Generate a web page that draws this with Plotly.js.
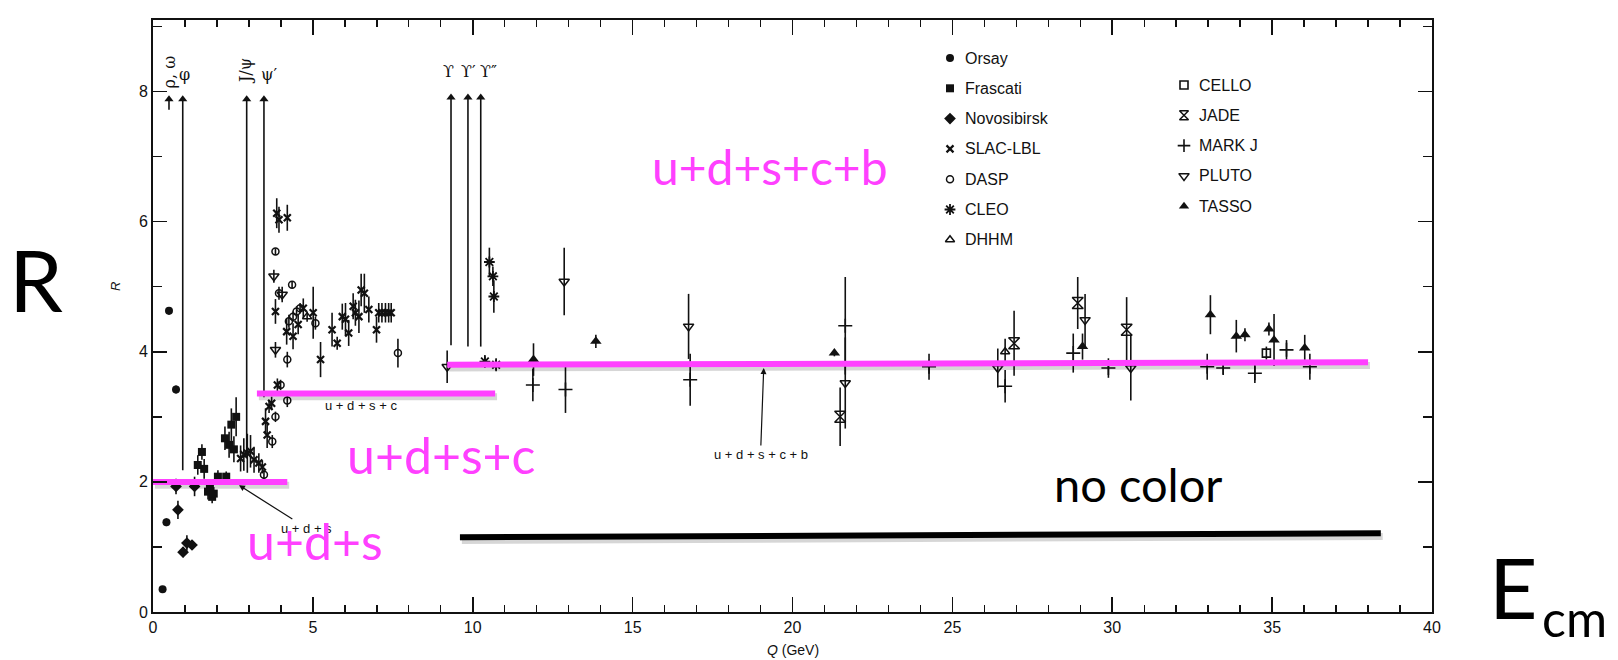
<!DOCTYPE html>
<html><head><meta charset="utf-8">
<script src="https://cdn.plot.ly/plotly-3.0.1.min.js"></script>
<style>html,body{margin:0;padding:0;background:#fff}#chart{width:1618px;height:660px}</style>
</head><body><div id="chart"></div>
<script>
// ---------------- data ----------------
const orsayQ = [0.30, 0.42, 0.50, 0.72];
const orsayR = [0.35, 1.38, 4.63, 3.42];
const orsayE = [0.05, 0.06, 0.06, 0.06];

const frascatiQ = [1.40, 1.53, 1.60, 1.72, 1.78, 1.85, 1.90, 2.03, 2.25, 2.29, 2.38, 2.45, 2.53, 2.60];
const frascatiR = [2.26, 2.46, 2.20, 1.85, 1.92, 1.77, 1.82, 2.08, 2.67, 2.08, 2.57, 2.88, 2.50, 3.00];
const frascatiE = [0.15, 0.12, 0.15, 0.12, 0.10, 0.10, 0.10, 0.10, 0.18, 0.08, 0.20, 0.25, 0.20, 0.30];

const novosibirskQ = [0.72, 0.78, 0.94, 1.06, 1.22, 1.30];
const novosibirskR = [1.93, 1.57, 0.92, 1.06, 1.03, 1.93];
const novosibirskE = [0.12, 0.14, 0.08, 0.12, 0.07, 0.15];

const slacQ = [2.74, 2.84, 2.95, 3.05, 3.16, 3.31, 3.42, 3.52, 3.57, 3.63, 3.71, 3.87, 3.89, 3.94, 4.20, 3.83, 4.18, 4.38, 4.54, 4.70, 5.01, 5.24, 5.60, 5.76, 5.92, 6.02, 6.12, 6.26, 6.33, 6.44, 6.51, 6.61, 6.75, 6.99, 7.06, 7.16, 7.27, 7.37, 7.45];
const slacR = [2.36, 2.42, 2.44, 2.47, 2.34, 2.29, 2.23, 2.93, 2.72, 3.16, 3.21, 6.13, 3.49, 6.03, 6.06, 4.62, 4.31, 4.24, 4.42, 4.67, 4.60, 3.88, 4.34, 4.13, 4.54, 4.50, 4.29, 4.70, 4.60, 4.54, 4.95, 4.90, 4.65, 4.34, 4.60, 4.60, 4.60, 4.60, 4.60];
const slacE = [0.20, 0.25, 0.30, 0.25, 0.20, 0.15, 0.10, 0.20, 0.20, 0.10, 0.10, 0.23, 0.10, 0.20, 0.20, 0.19, 0.20, 0.20, 0.15, 0.15, 0.40, 0.27, 0.26, 0.10, 0.20, 0.25, 0.20, 0.20, 0.20, 0.25, 0.25, 0.30, 0.20, 0.20, 0.15, 0.15, 0.15, 0.15, 0.15];

const daspQ = [3.47, 3.73, 3.83, 3.99, 4.20, 4.20, 3.83, 4.35, 3.94, 4.25, 4.38, 4.49, 4.60, 5.08, 7.66];
const daspR = [2.11, 2.62, 3.00, 3.49, 3.25, 3.88, 5.54, 5.03, 4.90, 4.47, 4.54, 4.62, 4.67, 4.44, 3.98];
const daspE = [0.08, 0.10, 0.08, 0.08, 0.10, 0.12, 0.05, 0.05, 0.10, 0.10, 0.08, 0.08, 0.08, 0.10, 0.22];

const cleoQ = [10.38, 10.52, 10.63, 10.66, 10.73];
const cleoR = [3.85, 5.38, 5.16, 4.85, 3.80];
const cleoE = [0.10, 0.22, 0.15, 0.25, 0.10];

const dhhmQ = [4.82, 26.65];
const dhhmR = [4.54, 4.00];
const dhhmE = [0.08, 0.20];

const celloQ = [34.82];
const celloR = [3.98];
const celloE = [0.10];

const jadeQ = [21.49, 26.93, 28.92, 30.45];
const jadeR = [3.00, 4.13, 4.75, 4.34];
const jadeE = [0.45, 0.50, 0.40, 0.50];

const markjQ = [11.88, 12.90, 16.80, 21.65, 24.27, 26.65, 28.78, 29.88, 32.97, 33.47, 34.46, 35.45, 36.18];
const markjR = [3.49, 3.42, 3.57, 4.40, 3.77, 3.47, 3.98, 3.75, 3.77, 3.75, 3.67, 4.03, 3.77];
const markjE = [0.25, 0.36, 0.40, 0.75, 0.20, 0.25, 0.30, 0.15, 0.20, 0.10, 0.15, 0.15, 0.20];

const plutoQ = [3.78, 4.04, 3.83, 9.20, 12.86, 16.75, 21.65, 26.42, 29.15, 30.58];
const plutoR = [5.16, 4.88, 4.03, 3.77, 5.08, 4.39, 3.52, 3.75, 4.49, 3.75];
const plutoE = [0.10, 0.12, 0.12, 0.25, 0.52, 0.50, 0.70, 0.30, 0.40, 0.50];

const tassoQ = [11.90, 13.85, 21.31, 29.07, 33.07, 33.88, 34.15, 34.90, 35.06, 36.02];
const tassoR = [3.88, 4.16, 3.98, 4.08, 4.57, 4.24, 4.26, 4.35, 4.18, 4.06];
const tassoE = [0.25, 0.10, 0.05, 0.20, 0.30, 0.25, 0.10, 0.10, 0.40, 0.20];

// resonances (arrows)
const resLabels = ['ρ, ω', 'φ', 'J/ψ', "ψ′", 'ϒ', "ϒ′", 'ϒ″'];
const resQ      = [0.50, 0.93, 2.93, 3.47, 9.32, 9.85, 10.25];
const resLow    = [7.72, 2.18, 2.40, 3.30, 4.10, 4.08, 4.08];
const resHigh   = [8.00, 8.00, 8.00, 8.00, 8.03, 8.03, 8.03];
const resLabelQ = [0.50, 1.00, 2.90, 3.63, 9.25, 9.88, 10.50];
const resLabelR = [8.31, 8.26, 8.31, 8.26, 8.31, 8.31, 8.31];
const resLabelRot = [-90, 0, -90, 0, 0, 0, 0];

// quark-parton predictions (magenta) and "no color"
const quarkLabels = ['u+d+s', 'u+d+s+c', 'u+d+s+c+b'];
const quarkQ0 = [0.00, 3.25, 9.20];
const quarkQ1 = [4.20, 10.70, 38.00];
const quarkR0 = [2.00, 3.36, 3.80];
const quarkR1 = [2.00, 3.36, 3.84];
const noColorQ = [9.60, 38.40];
const noColorR = [1.15, 1.21];

// legend entries
const legendCol1 = ['Orsay', 'Frascati', 'Novosibirsk', 'SLAC-LBL', 'DASP', 'CLEO', 'DHHM'];
const legendCol2 = ['CELLO', 'JADE', 'MARK J', 'PLUTO', 'TASSO'];

// ---------------- styles ----------------
const MAG = '#ff40ff';
const styles = {
  'Orsay':       {q: orsayQ, r: orsayR, e: orsayE, symbol: 'circle', size: 8, lw: 0},
  'Frascati':    {q: frascatiQ, r: frascatiR, e: frascatiE, symbol: 'square', size: 8, lw: 0},
  'Novosibirsk': {q: novosibirskQ, r: novosibirskR, e: novosibirskE, symbol: 'diamond', size: 9, lw: 0},
  'SLAC-LBL':    {q: slacQ, r: slacR, e: slacE, symbol: 'x-thin-open', size: 7, lw: 2.2},
  'DASP':        {q: daspQ, r: daspR, e: daspE, symbol: 'circle-open', size: 7, lw: 1.5},
  'CLEO':        {q: cleoQ, r: cleoR, e: cleoE, symbol: 'asterisk-open', size: 9, lw: 1.8},
  'DHHM':        {q: dhhmQ, r: dhhmR, e: dhhmE, symbol: 'triangle-up-open', size: 8, lw: 1.5},
  'CELLO':       {q: celloQ, r: celloR, e: celloE, symbol: 'square-open', size: 8, lw: 1.6},
  'JADE':        {q: jadeQ, r: jadeR, e: jadeE, symbol: 'hourglass-open', size: 11, lw: 1.5},
  'MARK J':      {q: markjQ, r: markjR, e: markjE, symbol: 'cross-thin-open', size: 10, lw: 1.6},
  'PLUTO':       {q: plutoQ, r: plutoR, e: plutoE, symbol: 'triangle-down-open', size: 9, lw: 1.5},
  'TASSO':       {q: tassoQ, r: tassoR, e: tassoE, symbol: 'triangle-up', size: 10, lw: 0}
};

// plot-area pixel geometry (for layout placement only)
const PX0 = 153, PX1 = 1432, PY0 = 20, PY1 = 612;
const pxX = px => (px - PX0) / (PX1 - PX0);
const pxY = py => (PY1 - py) / (PY1 - PY0);

const traces = [];

// resonance arrows
const rx = [], ry = [];
resQ.forEach((q, i) => { rx.push(q, q, null); ry.push(resLow[i], resHigh[i] - 0.1, null); });
traces.push({x: rx, y: ry, mode: 'lines', line: {color: '#111', width: 1.6}, hoverinfo: 'skip'});
traces.push({x: resQ, y: resHigh.map(v => v - 0.12), mode: 'markers',
  marker: {symbol: 'triangle-up', size: 8, color: '#111'}, hoverinfo: 'skip'});

// data
Object.keys(styles).forEach(name => {
  const s = styles[name];
  traces.push({
    name: name, x: s.q, y: s.r, mode: 'markers', type: 'scatter',
    error_y: {type: 'data', array: s.e, visible: true, color: '#111', thickness: 1.6, width: 0},
    marker: {symbol: s.symbol, size: s.size, color: '#111', line: {color: '#111', width: s.lw}},
    cliponaxis: false
  });
});

// shadows + magenta lines
quarkLabels.forEach((lab, i) => {
  traces.push({x: [quarkQ0[i] + 0.06, quarkQ1[i] + 0.06], y: [quarkR0[i] - 0.05, quarkR1[i] - 0.05],
    mode: 'lines', line: {color: 'rgba(0,0,0,0.16)', width: 7}, hoverinfo: 'skip'});
});
traces.push({x: [noColorQ[0] + 0.06, noColorQ[1] + 0.06], y: [noColorR[0] - 0.05, noColorR[1] - 0.05],
  mode: 'lines', line: {color: 'rgba(0,0,0,0.16)', width: 7}, hoverinfo: 'skip'});
quarkLabels.forEach((lab, i) => {
  traces.push({name: lab, x: [quarkQ0[i], quarkQ1[i]], y: [quarkR0[i], quarkR1[i]],
    mode: 'lines', line: {color: MAG, width: 6}, hoverinfo: 'skip'});
});
traces.push({name: 'no color', x: noColorQ, y: noColorR, mode: 'lines',
  line: {color: '#000', width: 6}, hoverinfo: 'skip'});

// custom two-column legend (markers on a pixel overlay axis)
const LEG1X = 950, LEG1Y = 58, LEG2X = 1184, LEG2Y = 85, LEGGAP = 30.3, LEGTXT = 13;
const legendAnn = [];
[[legendCol1, LEG1X, LEG1Y], [legendCol2, LEG2X, LEG2Y]].forEach(([names, cx, cy]) => {
  names.forEach((name, i) => {
    const s = styles[name];
    traces.push({x: [cx], y: [cy + i * LEGGAP], xaxis: 'x2', yaxis: 'y2', mode: 'markers',
      marker: {symbol: s.symbol, size: Math.min(s.size, 9), color: '#111', line: {color: '#111', width: s.lw}},
      cliponaxis: false, hoverinfo: 'skip'});
    legendAnn.push({xref: 'x2', yref: 'y2', x: cx + LEGTXT, y: cy + i * LEGGAP, text: name,
      showarrow: false, xanchor: 'left', yanchor: 'middle',
      font: {family: 'Liberation Sans, Arial, sans-serif', size: 16, color: '#111'}});
  });
});

// annotations
const ann = [].concat(legendAnn);
const C = {xanchor: 'center', yanchor: 'middle', showarrow: false};
resLabels.forEach((t, i) => {
  ann.push(Object.assign({x: resLabelQ[i], y: resLabelR[i], xref: 'x', yref: 'y', text: t,
    textangle: resLabelRot[i], font: {family: 'DejaVu Serif, serif', size: 16, color: '#111'}}, C));
});
const scanFont = {family: 'Liberation Sans, Arial, sans-serif', size: 13, color: '#111'};
ann.push(Object.assign({x: 6.5, y: 3.18, xref: 'x', yref: 'y', text: 'u + d + s + c', font: scanFont}, C));
ann.push({x: 2.69, y: 1.95, ax: 4.8, ay: 1.29, axref: 'x', ayref: 'y', xref: 'x', yref: 'y',
  xanchor: 'center', yanchor: 'middle',
  text: 'u + d + s', showarrow: true, arrowhead: 2, arrowsize: 1, arrowwidth: 1.2, arrowcolor: '#111', font: scanFont});
ann.push({x: 19.1, y: 3.75, ax: 19.0, ay: 2.42, axref: 'x', ayref: 'y', xref: 'x', yref: 'y',
  xanchor: 'center', yanchor: 'middle',
  text: 'u + d + s + c + b', showarrow: true, arrowhead: 2, arrowsize: 1, arrowwidth: 1.2, arrowcolor: '#111', font: scanFont});

const bigFont = (size, color) => ({family: 'Lato, Noto Sans, sans-serif', size: size, color: color});
const magPos = [[315, 541, 50], [441, 455, 50], [770, 166, 48]];
quarkLabels.forEach((lab, i) => {
  ann.push(Object.assign({xref: 'paper', yref: 'paper', x: pxX(magPos[i][0]), y: pxY(magPos[i][1]), text: lab,
    font: bigFont(magPos[i][2], MAG)}, C));
});
ann.push(Object.assign({xref: 'paper', yref: 'paper', x: pxX(1138), y: pxY(484), text: 'no color', font: bigFont(47, '#000')}, C));
ann.push(Object.assign({xref: 'paper', yref: 'paper', x: pxX(36), y: pxY(278), text: 'R', font: bigFont(86, '#000')}, C));
ann.push(Object.assign({xref: 'paper', yref: 'paper', x: pxX(1513), y: pxY(586), text: 'E', font: bigFont(84, '#000')}, C));
ann.push(Object.assign({xref: 'paper', yref: 'paper', x: pxX(1574), y: pxY(618), text: 'cm', font: bigFont(50, '#000')}, C));
ann.push(Object.assign({xref: 'paper', yref: 'paper', x: pxX(115), y: pxY(287), text: '<i>R</i>', textangle: -90,
  font: {family: 'Liberation Sans, Arial, sans-serif', size: 13, color: '#111'}}, C));
ann.push(Object.assign({xref: 'paper', yref: 'paper', x: 0.5, y: pxY(650), text: '<i>Q</i> (GeV)',
  font: {family: 'Liberation Sans, Arial, sans-serif', size: 14, color: '#111'}}, C));

const axisCommon = {
  showgrid: false, zeroline: false, showline: true, linecolor: '#111', linewidth: 2, mirror: 'ticks',
  ticks: 'inside', ticklen: 15, tickwidth: 1.6, tickcolor: '#111',
  tickfont: {family: 'Liberation Sans, Arial, sans-serif', size: 16, color: '#111'},
  minor: {dtick: 1, ticks: 'inside', ticklen: 7, tickwidth: 1.4, tickcolor: '#111'}
};

const layout = {
  width: 1618, height: 660,
  margin: {l: PX0, r: 1618 - PX1, t: PY0, b: 660 - PY1},
  paper_bgcolor: '#fff', plot_bgcolor: '#fff', showlegend: false,
  font: {family: 'Liberation Sans, Arial, sans-serif', color: '#111'},
  xaxis: Object.assign({}, axisCommon, {range: [0, 40], dtick: 5, tick0: 0}),
  yaxis: Object.assign({}, axisCommon, {range: [0, 9.1], dtick: 2, tick0: 0, ticklen: 14,
    minor: {dtick: 1, ticks: 'inside', ticklen: 9, tickwidth: 1.4, tickcolor: '#111'}}),
  xaxis2: {overlaying: 'x', anchor: 'y2', range: [PX0, PX1], visible: false, fixedrange: true},
  yaxis2: {overlaying: 'y', anchor: 'x2', range: [PY1, PY0], visible: false, fixedrange: true},
  annotations: ann
};

Plotly.newPlot('chart', traces, layout, {staticPlot: true});
</script></body></html>
